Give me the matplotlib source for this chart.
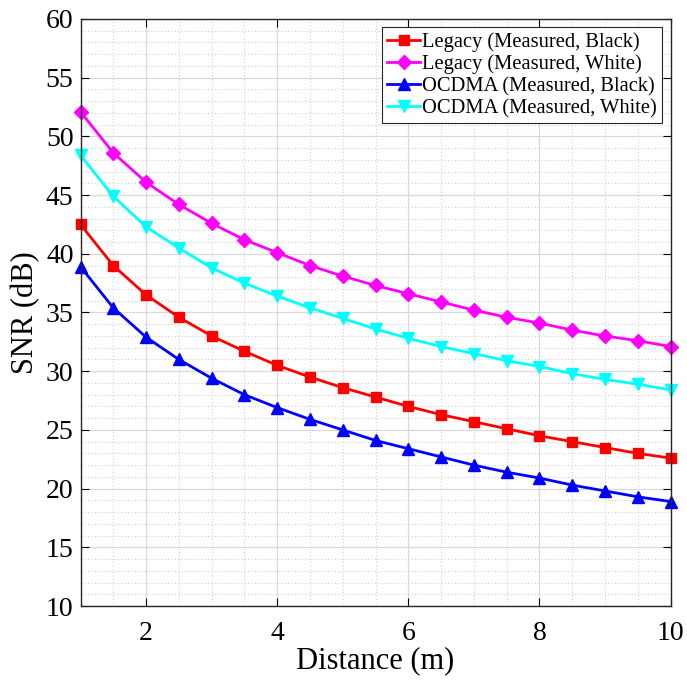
import matplotlib
matplotlib.use("Agg")
import matplotlib.pyplot as plt
import numpy as np
from matplotlib.ticker import MultipleLocator

distance = [1, 1.5, 2, 2.5, 3, 3.5, 4, 4.5, 5, 5.5, 6, 6.5, 7, 7.5, 8, 8.5, 9, 9.5, 10]
legacy_black = [42.5, 39.0, 36.5, 34.6, 33.0, 31.7, 30.5, 29.5, 28.6, 27.8, 27.0, 26.3, 25.7, 25.1, 24.5, 24.0, 23.5, 23.0, 22.6]
legacy_white = [52.1, 48.6, 46.1, 44.2, 42.6, 41.2, 40.1, 39.0, 38.1, 37.3, 36.6, 35.9, 35.2, 34.6, 34.1, 33.5, 33.0, 32.6, 32.1]
ocdma_black = [38.9, 35.4, 32.9, 31.0, 29.4, 28.0, 26.9, 25.9, 25.0, 24.1, 23.4, 22.7, 22.0, 21.4, 20.9, 20.3, 19.8, 19.3, 18.9]
ocdma_white = [48.4, 44.9, 42.3, 40.5, 38.8, 37.5, 36.4, 35.4, 34.5, 33.6, 32.8, 32.1, 31.5, 30.9, 30.4, 29.8, 29.3, 28.9, 28.4]
labels = ["Legacy (Measured, Black)", "Legacy (Measured, White)",
          "OCDMA (Measured, Black)", "OCDMA (Measured, White)"]

plt.rcParams['font.family'] = ['Liberation Serif', 'DejaVu Serif']
plt.rcParams['mathtext.fontset'] = 'stix'

fig = plt.figure(figsize=(6.87, 6.82), dpi=100)
ax = fig.add_axes([80.5 / 687, 1 - 606 / 682, 590 / 687, 587 / 682])

ax.plot(distance, legacy_black, color='#ff0000', marker='s', ms=7, lw=2, label=labels[0], clip_on=False)
ax.plot(distance, legacy_white, color='#ff00ff', marker='D', ms=7, lw=2, label=labels[1], clip_on=False)
ax.plot(distance, ocdma_black, color='#0000ff', marker='^', ms=9, lw=2, label=labels[2], clip_on=False)
ax.plot(distance, ocdma_white, color='#00ffff', marker='v', ms=9, lw=2, label=labels[3], clip_on=False)

ax.set_xlim(1, 10)
ax.set_ylim(10, 60)
ax.xaxis.set_major_locator(MultipleLocator(2))
ax.xaxis.set_minor_locator(MultipleLocator(0.5))
ax.yaxis.set_major_locator(MultipleLocator(5))
ax.yaxis.set_minor_locator(MultipleLocator(1))
ax.grid(which='major', color='#d9d9d9', lw=0.9, ls='-')
ax.grid(which='minor', color='#d0d0d0', lw=0.8, ls=(0, (1, 2)))
ax.set_axisbelow(True)
ax.tick_params(which='both', direction='in', top=True, right=True, labelsize=20)
ax.tick_params(which='major', length=6)
ax.tick_params(axis='y', which='major', pad=5)
ax.tick_params(axis='x', which='major', pad=11)
ax.tick_params(which='minor', length=0)
for s in ax.spines.values():
    s.set_color('#262626')
    s.set_linewidth(1.0)
ax.set_xlabel('Distance (m)', fontsize=22, labelpad=0)
ax.set_ylabel('SNR (dB)', fontsize=22, labelpad=4)

leg = ax.legend(loc='upper right', fontsize=14.8, frameon=True, fancybox=False,
                edgecolor='#262626', framealpha=1, borderpad=0.25, labelspacing=0.12,
                handlelength=1.6, handletextpad=0.1, borderaxespad=0.4)
leg.get_frame().set_linewidth(0.8)

fig.savefig('out.png', dpi=100)
